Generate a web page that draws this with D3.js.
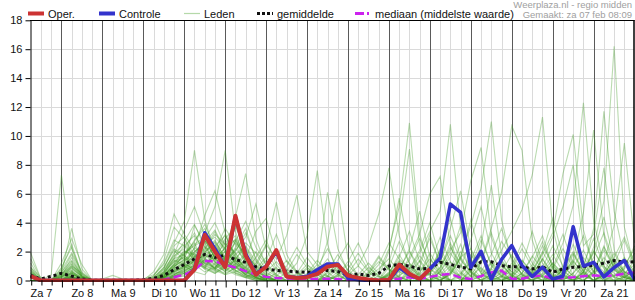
<!DOCTYPE html>
<html>
<head>
<meta charset="utf-8">
<script src="https://cdn.jsdelivr.net/npm/d3@7"></script>
<style>
body{margin:0;background:#fff;}
svg{display:block;font-family:"Liberation Sans",Arial,sans-serif;}
</style>
</head>
<body>
<svg id="svg1" width="635" height="300"></svg>
<script>
// uren vanaf za 7 00:00, een waarde per 6 uur vanaf 06:00
var startHour = 6, stepHours = 6;
var dayLabels = ["Za 7","Zo 8","Ma 9","Di 10","Wo 11","Do 12","Vr 13","Za 14","Zo 15","Ma 16","Di 17","Wo 18","Do 19","Vr 20","Za 21"];
var yTicks = [0,2,4,6,8,10,12,14,16,18];

var oper = [0.3,0,0,0,0,0,0,0,0,0,0,0,0,0,0, 0,0.75,3.15,2.0,0.92,4.48,1.72,0.4, 0.95,2.1,0.27,0.18,0.23,0.46,0.96,1.08,0.34,0.18,0.07,0, 0.05,1.1,0.46,0.1,0.8];
var controle = [0.3,0,0,0,0,0,0,0,0,0,0,0,0,0,0, 0,0.8,3.3,2.2,0.95,4.4,1.85,0.45, 1.0,2.0,0.3,0.2,0.3,0.75,1.15,1.15,0.15,0.05,0,0, 0,0.9,0.4,0.1,0.8,1.56,5.29,4.71,0.9,2.02,0.08,1.45, 2.41,1.05,0.28,0.92,0.1,0.3,3.72,1.0,1.26,0.25,0.9,1.38,0.05];
var gemiddelde = [0.36,0.1,0.28,0.5,0.3,0.1,0.02,0.01,0.02,0.01,0.02,0.05,0.15,0.35,0.75, 1.1,1.5,1.8,1.6,1.75,1.45,1.25,0.95, 0.8,0.7,0.65,0.6,0.57,0.57,0.7,0.62,0.35,0.45,0.35,0.5, 1.0,1.12,1.0,0.8,0.85,1.26,1.12,0.92,0.8,1.3,1.3,1.03, 0.95,0.95,0.8,0.95,0.57,0.8,0.92,0.97,1.05,1.2,1.38,1.26,1.3];
var mediaan = [0.3,0.02,0,0,0,0,0,0,0,0,0,0,0,0.05,0.23, 0.4,0.72,1.35,1.33,1.08,0.9,0.65,0.42, 0.25,0.18,0.15,0.1,0.1,0.1,0.12,0.1,0.05,0.05,0.03,0.05, 0.1,0.12,0.22,0.1,0.25,0.38,0.45,0.2,0.1,0.3,0.55,0.68, 0.12,0.12,0.28,0.35,0.1,0.18,0.22,0.3,0.35,0.3,0.35,0.48,0.55];

// ensembleleden
var lid01 = [1.9,0.1, 0,0.5,3.6,0.8, 0,0,0,0,0, 0,0.6,1.8,4.6, 3.2,2.1,1.5,0.8,2.4,1.1,0.4,0.2, 0,0,0.3,0.1,0,0,0.5,1.2,0.4,0,0,0, 0,0.3,1.1,0.2,0,0,0.8,2.5,0.6,0,0,0.2, 0,0,0.4,1.5,0.3,0,0,0.2,0.9,0.1,0,0,0.3];
var lid02 = [0.8,0, 0.4,7.3,2.2,0.3, 0,0,0,0,0, 0,0.2,0.9,2.1, 1.4,3.8,2.6,1.2,0.9,2.8,1.5,0.3, 0.2,0,0,0,0,0,0,0.3,0,0,0,0, 0.5,1.8,0.6,0,0,0.2,0,0,0,0.4,1.3,0.5, 0.1,0,0,0,0.3,0,0,0,0.6,2.4,0.8,0,0];
var lid03 = [0.5,0, 0,1.2,2.9,1.1, 0,0,0,0,0, 0.1,0.4,1.1,2.6, 4.1,9.0,4.2,2.0,1.3,0.6,0.2,0, 0,0,0,0.2,0.8,0.1,0,0,0,0,0,0, 0,0,0,0,0.6,2.2,0.9,0.1,0,0,0,0, 0,0.5,1.6,3.1,0.9,0.2,0,0,0,0,0,0.2,0.7];
var lid04 = [0,0, 0,0.8,2.5,0.4, 0,0,0,0,0, 0,0,0.6,1.9, 2.5,1.6,3.3,5.1,9.0,3.4,1.2,0.5, 0.1,0,0,0,0,0,0,0,0,0,0,0, 0.3,0.2,0,0,0,0,0,0.4,1.8,0.7,0,0, 0,0,0,0,0,0,0,0.3,1.1,0.4,0,0,0];
var lid05 = [1.2,0, 0,0.3,1.6,0.2, 0,0,0,0,0, 0,0,0.3,1.2, 1.9,2.4,2.8,1.6,2.2,4.4,7.4,2.9, 1.0,0.3,0,0,0,0,0,0,0,0,0,0, 0,0,0,0.9,3.2,1.1,0,0,0,0,0.2,0.8, 0.3,0,0,0,0,0,0.5,1.3,0.2,0,0,0,0];
var lid06 = [0.3,0, 0,0.2,1.0,0.5, 0,0,0,0,0, 0,0.1,0.5,1.4, 1.1,0.9,1.7,2.3,1.4,2.1,3.0,5.3, 2.2,0.8,0.4,1.2,3.1,7.6,2.5,0.4,0,0,0,0, 0,0,0,0,0,0,0,0,0.3,0.9,0.2,0, 0,0,0,0,0,0,0,0,0,0.4,1.6,3.0,1.2];
var lid07 = [0,0, 0,0,0.6,0.2, 0,0,0,0,0, 0,0,0.2,0.8, 1.3,1.9,1.0,0.7,1.6,2.6,1.8,1.0, 2.4,5.4,1.8,0.6,0.2,0.5,2.7,6.3,1.5,0.3,0,0, 0,0,0,0,0,0,0,0,0,0,0,0, 0,0.2,0.9,0.3,0,0,0,0,0,0,0,0,0];
var lid08 = [0.6,0, 0,0.5,1.8,0.3, 0,0,0,0,0, 0,0.3,1.4,3.7, 2.9,1.4,2.2,3.4,1.9,1.0,0.4,1.2, 2.5,1.5,3.1,5.9,2.0,1.1,6.1,2.2,0.6,0,0,0, 0,0,0,0,0,0,0.4,1.6,0.6,0,0,0, 0,0,0,0,0.2,1.0,0.3,0,0,0,0,0,0];
var lid09 = [0,0, 0,0,0.3,0, 0,0,0,0,0, 0,0,0.1,0.6, 0.9,1.6,2.4,1.3,0.6,1.5,2.3,1.1, 0.4,0,0,0,0,0,0.3,1.4,2.6,1.0,2.4,4.6, 7.8,3.1,1.2,0.3,0,0,0,0,0,0,0,0, 0.5,1.4,0.4,0,0,0,0,0,0,0,0,0,0];
var lid10 = [0.4,0, 0,0.2,0.9,0.1, 0,0,0,0,0, 0,0,0.4,1.1, 1.6,2.8,3.6,2.1,1.2,3.9,2.0,0.6, 0.2,0,0,0,0,0,0,0,0,0,0,0.6, 2.2,5.1,10.9,3.2,0.8,0.2,0,0,0,0,0,0, 0,0,0,0,0,0.4,1.8,0.6,0,0,0,0,0];
var lid11 = [0,0, 0,0,0.4,0.2, 0,0,0,0,0, 0,0,0,0.3, 0.7,1.2,2.0,1.7,2.6,1.9,1.0,0.5, 0,0,0,0,0,0,0,0.6,0.2,0,0,0, 0,0.4,1.6,3.2,6.0,7.2,2.4,0.6,0,0,0,0, 0,0,0,0.3,1.2,0.4,0,0,0,0.2,0.8,0.2,0];
var lid12 = [0.2,0, 0,0,0.2,0, 0,0,0,0,0, 0,0,0.2,0.5, 0.6,1.1,1.4,0.8,0.5,0.9,1.3,0.7, 0.2,0,0,0,0,0,0,0,0,0,0.3,1.1, 2.6,1.5,0.8,1.9,3.4,4.8,10.8,3.6,1.0,0.2,0,0, 0,0,0,0,0,0,0,0,0,0,0,0.3,0.9];
var lid13 = [0,0, 0,0,0,0, 0,0,0,0,0, 0,0,0,0.2, 0.5,0.9,1.3,1.6,2.0,1.3,0.6,0.2, 0,0,0,0,0.4,1.1,0.3,0,0,0,0,0, 0,0,0,0,0.2,0.9,2.1,3.3,6.9,9.2,3.0,1.1, 0.3,0,0,0,0,0,0,0,0,0,0,0,0];
var lid14 = [0.9,0.2, 0,0.6,1.4,0.4, 0,0,0,0,0, 0,0.2,0.8,1.7, 2.2,3.3,1.8,1.1,0.8,1.6,0.9,0.4, 0.8,1.9,0.6,0,0,0,0,0,0,0,0,0, 0,0,0,0,0,0,0.5,1.7,3.8,6.4,11.0,4.2, 1.3,0.4,0,0,0,0,0,0,0,0,0,0,0];
var lid15 = [0,0, 0,0,0.5,0.1, 0,0,0,0,0, 0,0,0.3,0.9, 1.5,1.2,2.7,2.4,3.1,1.7,0.8,0.3, 0.1,0,0,0,0,0,0,0,0,0,0,0, 0,0,0,0,0,0,0,0,0.4,1.3,3.6,6.1, 10.7,9.0,2.8,0.7,0,0,0,0,0,0,0,0,0];
var lid16 = [0.5,0, 0,0.4,1.2,0.2, 0,0,0,0,0, 0,0.1,0.7,1.5, 1.8,2.5,3.0,1.5,1.0,2.2,1.4,0.6, 0.3,0,0,0,0.2,0.5,0.3,0,0,0,0,0, 0,0,0,0,0,0,0,0,0,0,0.8,2.1, 3.4,4.9,7.3,11.3,3.6,0.8,0,0,0,0,0,0,0];
var lid17 = [0,0, 0,0,0,0, 0,0,0,0,0, 0,0,0,0.4, 0.8,1.4,0.9,0.6,1.1,0.7,0.3,0, 0,0,0,0,0,0,0,0,0,0,0,0, 0,0,0,0,0,0,0,0,0,0,0,0, 0,0,0.6,1.8,3.3,7.4,10.1,3.5,1.0,0.2,0,0,0];
var lid18 = [0.7,0, 0,0.3,0.7,0, 0,0,0,0,0, 0,0,0.5,1.3, 2.0,1.8,1.2,0.9,1.8,2.9,1.6,0.5, 0,0,0,0,0,0,0,0,0,0,0,0, 0.4,1.3,0.5,0,0,0,0,0,0,0,0,0, 0,0,0,0,0.9,2.6,5.2,12.3,4.1,1.0,0.2,0,0];
var lid19 = [0,0, 0,0,0.2,0, 0,0,0,0,0, 0,0,0.1,0.7, 1.0,0.6,1.5,1.1,0.6,1.2,0.7,0.2, 0,0,0,0,0,0,0,0,0,0,0,0, 0,0,0,0,0,0.3,1.0,0.2,0,0,0,0, 0,0,0,0,0,0,0,0.8,3.6,11.7,4.8,1.5,0.4];
var lid20 = [0.3,0, 0,0,0.4,0.1, 0,0,0,0,0, 0,0,0.2,0.6, 0.9,1.3,0.8,1.9,1.4,0.5,0.2,0, 0,0,0,0,0,0,0,0,0,0,0,0, 0,0,0,0,0,0,0,0,0,0,0,0, 0,0,0,0,0,0,0,0.6,2.3,5.5,16.2,3.7,0.9];
var lid21 = [0,0, 0,0.2,0.8,0.3, 0,0,0,0,0, 0,0,0.4,1.0, 1.4,2.0,2.5,3.0,2.2,1.4,0.7,0.2, 0,0,0,0.5,1.6,0.6,0,0,0,0,0,0, 0,0,0,0,0,0,0,0,0,0,0,0.3, 0.9,0.3,0,0,0,0,0,0,0.4,1.2,3.8,9.5,2.6];
var lid22 = [0,0, 0,0,0.3,0, 0,0,0,0,0, 0,0,0.2,0.7, 1.2,1.7,0.9,0.5,1.0,1.8,2.4,1.3, 0.5,0.2,0,0,0,0,0,0,0,0,0,0, 0,0,0,0,0,0,0,0,0,0,0,0, 0,0,0.5,1.4,3.0,5.1,8.0,2.4,3.2,7.8,2.1,0.6,0.2];
var lid23 = [0.2,0, 0,0,0.3,0, 0,0,0,0,0, 0,0,0,0.4, 0.7,1.0,1.9,2.8,1.5,0.9,0.4,0.1, 0,0,0,0,0,0,0,0,0,0,0.4,1.6, 0.7,0.2,0,0,0,0,0,0,0,0,0,0, 0,0,0,0,0,0.2,1.5,4.7,10.4,3.1,0.8,0.2,0];
var lid24 = [0,0, 0,0,0.1,0, 0,0,0,0,0, 0,0,0.1,0.5, 1.0,2.3,1.6,0.8,1.3,2.0,3.3,1.5, 0.6,0.1,0,0,0,0,0,0,0,0,0,0, 1.2,3.9,9.1,2.4,0.6,0,0,0,0,0,0,0, 0,0.3,1.1,2.7,0.9,0,0,0,0,0,0,0,0];
var lid25 = [0,0, 0,0,0.5,0.1, 0,0,0,0,0, 0,0,0.2,0.9, 1.9,2.6,1.1,0.7,0.4,0.9,0.5,0.2, 0,0,0,0,0,0,0,0,0,0,0,0.3, 2.0,5.7,2.1,0.4,0,0,0,0,0.6,2.4,6.6,1.8, 0.4,0,0,0,0,0,0,0,0,0,0,0,0];
var lid26 = [0.1,0, 0,0,0.1,0, 0,0,0,0,0, 0,0,0.1,0.3, 0.5,1.0,1.6,1.9,1.2,0.7,0.3,0.1, 0.2,0,0,0.4,1.1,0.6,0,0,0,0,0.3,0.8, 1.5,0.6,0.3,1.0,0.4,0,0.5,1.6,2.2,0.8,0.2,0, 0.3,0.9,0.4,0,0.2,0.7,1.9,0.6,0,0.4,1.2,0.5,1.1];
var lid27 = [0.6,0, 0,0.9,2.3,0.5, 0,0,0,0,0, 0,0.3,1.2,2.8, 2.4,1.3,0.9,2.1,3.6,2.5,1.1,0.6, 0.3,0.9,0.2,0,0,0,0,0,0,0.2,0.9,0.3, 0,0,0,0,0,0,0,0,0,0,0,0, 0.2,1.0,3.4,1.2,0.3,0,0,0,0,0,0.4,0.2,0];
var lid28 = [0,0, 0,0,0,0, 0,0.1,0.35,0.1,0, 0,0,0,0.2, 0.4,0.8,1.4,1.0,0.7,1.1,1.9,0.8, 0.3,0,0,0,0,0,0,0,0,0,0,0, 0,0,0,0,0.7,1.9,0.8,0,0,0,0,0, 0,0,0,0,0,0,0,0.5,2.1,0.8,0.2,0,0];
var lid29 = [1.5,0.1, 0,0.1,0.6,0.2, 0,0,0,0,0, 0,0,0.5,1.6, 2.7,3.9,2.3,1.4,2.8,1.9,0.6,0.2, 0,0,0,0,0,0,0.2,0.8,0.3,0,0,0, 0.4,1.2,0.7,0.2,0,0.9,2.3,1.1,0.3,0.3,1.2,0.4, 0,0.5,1.7,0.8,0.2,0,0,0.6,2.0,0.9,0.3,0.8,1.9];
var lid30 = [0,0, 0,0,0.2,0, 0,0,0,0,0, 0,0,0,0.3, 0.6,1.4,2.1,3.2,2.5,1.5,0.8,0.3, 0.1,0.5,1.4,0.6,0,0,0,0,0.4,1.0,0.3,0, 0,0.6,1.4,2.9,1.2,0.4,0,0,0.7,1.8,0.6,0.2, 1.0,2.6,1.2,0.3,0,0.5,1.4,0.4,0,0,0.3,1.0,2.2];
var lid31 = [0.4,0, 0,0.3,1.1,0.3, 0,0,0,0,0, 0,0.2,0.9,2.2, 1.7,1.1,0.6,0.9,1.6,2.7,4.1,2.3, 1.2,0.4,0,0,0,0,0,0,0,0,0,0, 0.3,0.9,0.2,0,0.5,1.3,3.1,1.4,0.6,0.2,0.9,2.7, 1.6,0.4,0,0,0.8,2.2,0.9,0.3,1.3,0.6,0,0.2,0.7];
var lid32 = [0,0, 0,0,0,0, 0,0,0,0,0, 0,0,0.2,0.7, 1.2,0.7,1.3,0.9,0.4,0.6,0.9,0.4, 0.1,0,0,0,0.3,0.9,2.2,0.8,0.2,0,0,0, 0,0,0.6,1.7,0.8,0.4,1.3,0.5,0,0,0.4,1.3, 0.6,0.2,0,0.9,2.4,1.0,0.3,0,0,0.5,1.4,0.6,0.2];
var lid33 = [0.9,0, 0,0.7,1.9,0.6, 0,0,0,0,0, 0,0.1,0.6,1.8, 3.5,5.1,3.1,1.5,0.9,0.5,0.3,0.1, 0,0,0,0,0,0,0,0,0,0,0.5,1.3, 0.8,0.3,0,0,0,0.6,1.6,3.8,1.5,0.5,0,0, 0.4,1.1,0.5,0,0,0.3,1.2,3.1,1.0,0.3,0.9,0.3,0];
var lid34 = [0,0, 0,0,0.3,0, 0,0,0,0,0, 0,0,0.3,1.0, 1.4,2.2,4.5,6.2,3.3,1.4,0.6,0.2, 0,0,0,0,0,0.3,0.9,0.4,0,0,0,0, 0.6,1.4,0.5,0,0,0,0.4,1.5,4.2,1.6,0.5,0, 0,0,0.3,0.9,0.4,0,0,0,0.7,2.3,1.0,0.4,1.4];
var lid35 = [0.2,0, 0,0.2,0.6,0, 0,0,0,0,0, 0,0,0.1,0.4, 0.8,1.5,2.9,4.0,2.4,3.1,1.5,0.8, 0.2,0,0,0,0,0,0,0,0,0,0,0, 0.2,0.8,2.0,0.9,0.3,0,0,0.2,0.9,2.8,1.1,0.3, 0,0,0.6,1.9,4.3,1.6,0.4,0,0,0.3,1.1,2.8,0.9];
var lid36 = [0,0, 0,0,0.1,0, 0,0,0,0,0, 0,0,0,0.2, 0.3,0.7,1.2,0.8,1.7,1.0,0.4,0.1, 0,0,0,0,0.2,0.7,0.3,0,0,0,0,0, 0,0,0,0.5,1.9,0.7,0,0,0,0.3,0.8,0.3, 0,0,0,0,0,0,0.5,1.6,0.6,0,0,0,0.4];
var lid37 = [0,0, 0,0,0.2,0, 0,0,0,0,0, 0,0,0.2,0.6, 1.0,0.6,0.4,1.2,2.0,1.2,0.5,0.8, 1.6,0.7,0.2,0,0,0,0,0.4,1.3,2.6,1.0,0.3, 0,0.7,2.2,4.8,1.6,0.4,0,0,0.8,1.7,0.5,0, 0,0,0.9,2.4,1.1,0.2,0,0,0,0.6,1.9,0.5,0];
var lid38 = [0.3,0, 0,0,0.5,0.1, 0,0,0,0,0, 0,0,0.3,1.1, 2.1,1.5,0.8,0.5,0.9,1.4,2.6,1.9, 0.7,0.3,1.0,2.3,1.1,0.4,0,0,0,0,0,0, 0.9,2.7,1.2,0.4,1.1,3.0,1.3,0.2,0,0,0,0.6, 1.8,0.7,0.2,0,0,0,0.9,2.1,0.6,0,0,0,0];
var lid39 = [0,0, 0,0,0,0, 0,0,0,0,0, 0,0,0,0.3, 0.5,0.9,1.8,1.3,0.8,0.4,0.2,0.6, 1.4,3.2,1.3,0.5,0.2,0,0.6,1.8,0.7,0.2,0,0, 0,0,0.4,1.3,2.9,1.2,3.6,6.2,2.1,0.5,0,0, 0.3,1.4,0.6,0.2,0,0.8,2.0,0.7,0,0.4,1.5,0.6,0.2];
var lid40 = [0.5,0, 0,0.4,1.3,0.3, 0,0,0,0,0, 0,0.1,0.6,1.3, 1.6,1.0,1.9,2.7,1.6,0.8,1.5,3.4, 4.3,1.8,0.6,0.2,0,0,0,0,0.5,1.5,0.6,0, 0,0,0,0,0,0.6,1.9,0.9,2.8,5.1,1.9,0.6, 0,0,0,0.4,1.2,0.5,0,0.3,1.6,3.3,1.2,0.4,0];
var lid41 = [0.3,0, 0,0.2,0.7,0.1, 0,0,0,0,0, 0,0,0.4,1.5, 2.4,3.1,2.0,2.6,1.4,0.9,1.8,1.0, 0.4,0,0.6,1.8,0.9,0.2,0,0.4,1.1,0.3,0,0, 0.5,1.6,3.4,1.3,0.4,0,0.6,2.0,0.8,0,0.5,1.4, 0.6,0,0,0.7,1.8,0.6,0.2,1.1,2.9,1.0,0.3,0,0.5];
var lid42 = [0,0, 0,0,0.3,0, 0,0,0,0,0, 0,0,0.3,0.9, 1.8,2.7,3.9,2.2,1.1,2.3,3.6,1.4, 0.6,1.3,0.5,0,0,0,0.3,1.0,0.4,0,0,0, 0,0,0.8,2.1,4.0,1.5,0.6,0,0,1.2,3.3,1.2, 0.3,0,0.4,1.5,0.5,0,0,0.6,1.9,4.4,1.3,0.4,0];
var lid43 = [0.7,0, 0,0.4,1.0,0.2, 0,0,0,0,0, 0,0.1,0.8,2.4, 3.0,1.7,1.0,1.8,2.9,3.7,2.2,0.9, 0.3,0,0,0,0.5,1.4,0.6,0,0,0.4,1.2,0.5, 0,0.3,0.9,0.3,0,0.7,2.6,1.0,0.3,0,0,0, 0.8,2.2,0.9,0.2,0,0.4,1.3,0.5,0,0,0.7,1.6,0.6];
var lid44 = [0,0, 0,0,0.2,0, 0,0,0,0,0, 0,0,0.1,0.4, 0.9,1.9,2.8,1.6,0.8,1.4,0.7,0.3, 0.9,2.0,0.8,0.2,0,0,0,0,0,0,0.6,1.7, 0.8,0.2,0,0,0.5,1.6,0.7,0.3,1.4,3.1,1.0,0.3, 0,0,0,0.5,1.5,3.2,1.1,0.3,0,0,0,0.9,2.4];
var lid45 = [0.4,0, 0,0.3,0.9,0.3, 0,0,0,0,0, 0,0,0.2,0.8, 1.3,2.0,2.6,3.5,2.1,1.2,0.6,1.6, 2.8,1.1,0.3,0,0,0.6,1.5,0.5,0,0,0,0, 0,0,0.5,1.4,0.6,2.1,4.3,1.5,0.5,0,0,0.3, 1.2,0.5,0,0,0,0.8,2.5,0.9,0.4,1.6,0.7,0.2,0];
var lid46 = [0,0, 0,0,0.1,0, 0,0,0,0,0, 0,0,0,0.3, 0.6,1.1,1.9,1.4,2.3,2.8,1.3,0.5, 0,0,0,0.3,0.9,0.4,0,0,0,0,0,0, 0.4,1.1,0.4,0,0,0,0,0.5,1.3,0.6,1.8,3.6, 1.5,0.4,0,0.3,1.0,0.4,0,0,0.5,1.3,0.5,0.2,0.8];
var lid47 = [0.2,0, 0,0.1,0.5,0, 0,0,0,0,0, 0,0,0.3,1.1, 1.7,1.3,2.3,1.9,3.2,1.6,0.9,2.0, 1.1,0.4,0,0,0,0,0,0.3,0.8,1.9,0.7,0.2, 0,0,0,0.6,1.5,0.6,0,0,0,0,0.4,1.0, 0.4,0,0.7,2.0,0.8,0.3,0,0,0.6,2.1,0.9,0.3,0];
var lid48 = [0,0, 0,0,0.2,0, 0,0,0,0,0, 0,0,0.2,0.6, 1.1,0.8,1.5,2.4,1.5,0.7,0.4,0.2, 0,0,0,0,0,0,0,0,0,0,0,0, 0,0,0,0,0,0,0,0,0,0,0,0, 0,0,0,0,0,0,0,0,0,0,0,0,0];
var leden = [lid01,lid02,lid03,lid04,lid05,lid06,lid07,lid08,lid09,lid10,lid11,lid12,lid13,lid14,lid15,lid16,
             lid17,lid18,lid19,lid20,lid21,lid22,lid23,lid24,lid25,lid26,lid27,lid28,lid29,lid30,lid31,lid32,
             lid33,lid34,lid35,lid36,lid37,lid38,lid39,lid40,lid41,lid42,lid43,lid44,lid45,lid46,lid47,lid48];

var svg = d3.select("#svg1");

var scaleX = d3.scaleLinear().domain([6, 360]).range([30.7, 634.6]);
var scaleY = d3.scaleLinear().domain([0, 18]).range([280.5, 20.3]);

// grid
var gGrid = svg.append("g");
var hours6 = d3.range(12, 360, 6);
gGrid.selectAll("line.h6").data(hours6.filter(function(h){ return h % 24 != 0; })).enter().append("line")
    .attr("x1", function(d){ return Math.round(scaleX(d)) + 0.5; })
    .attr("x2", function(d){ return Math.round(scaleX(d)) + 0.5; })
    .attr("y1", scaleY(18)).attr("y2", scaleY(0))
    .attr("stroke", "#dadada").attr("stroke-width", 1);
gGrid.selectAll("line.hy").data(yTicks.slice(1, -1)).enter().append("line")
    .attr("x1", 30).attr("x2", 634)
    .attr("y1", function(d){ return Math.round(scaleY(d)) + 0.5; })
    .attr("y2", function(d){ return Math.round(scaleY(d)) + 0.5; })
    .attr("stroke", "#dadada").attr("stroke-width", 1);
gGrid.selectAll("line.day").data(hours6.filter(function(h){ return h % 24 == 0; })).enter().append("line")
    .attr("x1", function(d){ return Math.round(scaleX(d)) + 0.5; })
    .attr("x2", function(d){ return Math.round(scaleX(d)) + 0.5; })
    .attr("y1", scaleY(18)).attr("y2", scaleY(0))
    .attr("stroke", "#5a5a5a").attr("stroke-width", 1);

// lijnen
svg.append("clipPath").attr("id", "clip").append("rect")
    .attr("x", 30).attr("y", 19).attr("width", 605).attr("height", 263);
var gLines = svg.append("g").attr("clip-path", "url(#clip)");

var line = d3.line()
    .x(function(d, i){ return scaleX(startHour + i * stepHours); })
    .y(function(d){ return scaleY(d); });

gLines.selectAll("path.lid").data(leden).enter().append("path")
    .attr("d", line)
    .attr("fill", "none")
    .attr("stroke", "rgb(65,155,35)")
    .attr("stroke-opacity", 0.36)
    .attr("stroke-width", 1.1);

gLines.append("path").attr("d", line(mediaan))
    .attr("fill", "none").attr("stroke", "#cc22ee")
    .attr("stroke-width", 2.5).attr("stroke-dasharray", "8,4");
gLines.append("path").attr("d", line(gemiddelde))
    .attr("fill", "none").attr("stroke", "#111")
    .attr("stroke-width", 3).attr("stroke-dasharray", "3,3");
gLines.append("path").attr("d", line(controle))
    .attr("fill", "none").attr("stroke", "#3333cc")
    .attr("stroke-width", 3.5).attr("stroke-linejoin", "round");
gLines.append("path").attr("d", line(oper))
    .attr("fill", "none").attr("stroke", "#cc3333")
    .attr("stroke-width", 4).attr("stroke-linejoin", "round");

// assen
var axisY = d3.axisLeft(scaleY).tickValues(yTicks).tickSize(5).tickSizeOuter(0).tickPadding(3);
var gAxisY = svg.append("g").attr("transform", "translate(30.5,0)").call(axisY);
gAxisY.selectAll("text").attr("font-size", "11px").attr("fill", "#111").attr("font-family", null);

var axisX = d3.axisBottom(scaleX).tickValues(d3.range(6, 361, 6)).tickSize(5).tickSizeOuter(0).tickFormat("");
var gAxisX = svg.append("g").attr("transform", "translate(0,280.5)").call(axisX);
gAxisX.selectAll(".tick line").attr("transform", "translate(0.5,0)")
    .attr("y2", function(d){ return d % 24 == 0 ? 7 : 5; });

var axisDays = d3.axisBottom(scaleX).tickValues(dayLabels.map(function(d, k){ return 12 + 24 * k; }))
    .tickSize(0).tickPadding(9).tickFormat(function(d, k){ return dayLabels[k]; });
var gDays = svg.append("g").attr("transform", "translate(0,280.5)").call(axisDays);
gDays.select(".domain").remove();
gDays.selectAll("text").attr("font-size", "11px").attr("fill", "#111").attr("font-family", null);

// kader boven en rechts
svg.append("line").attr("x1", 30).attr("x2", 634.5).attr("y1", 20.5).attr("y2", 20.5).attr("stroke", "#000");
svg.append("line").attr("x1", 634).attr("x2", 634).attr("y1", 20).attr("y2", 281).attr("stroke", "#000").attr("stroke-width", 1.5);

// legenda
var legend = [
    {label: "Oper.", x: 28, color: "#cc3333", w: 4, dash: null, op: 1},
    {label: "Controle", x: 99, color: "#3333cc", w: 4, dash: null, op: 1},
    {label: "Leden", x: 184, color: "rgb(70,160,40)", w: 1.2, dash: null, op: 0.4},
    {label: "gemiddelde", x: 257, color: "#111", w: 3, dash: "3,2", op: 1},
    {label: "mediaan (middelste waarde)", x: 355, color: "#cc22ee", w: 3, dash: "9,3,2,10", op: 1}
];
var gLegend = svg.append("g");
legend.forEach(function(d){
    gLegend.append("line").attr("x1", d.x).attr("x2", d.x + 16).attr("y1", 13.5).attr("y2", 13.5)
        .attr("stroke", d.color).attr("stroke-width", d.w).attr("stroke-opacity", d.op)
        .attr("stroke-dasharray", d.dash);
    gLegend.append("text").attr("x", d.x + 20).attr("y", 17.5).attr("font-size", "11px").attr("fill", "#111").text(d.label);
});

svg.append("text").attr("x", 632).attr("y", 8).attr("text-anchor", "end")
    .attr("font-size", "9.5px").attr("fill", "#a0a0a0").text("Weerplaza.nl - regio midden");
svg.append("text").attr("x", 632).attr("y", 18).attr("text-anchor", "end")
    .attr("font-size", "9.5px").attr("fill", "#a0a0a0").text("Gemaakt: za 07 feb 08:09");
</script>
</body>
</html>
